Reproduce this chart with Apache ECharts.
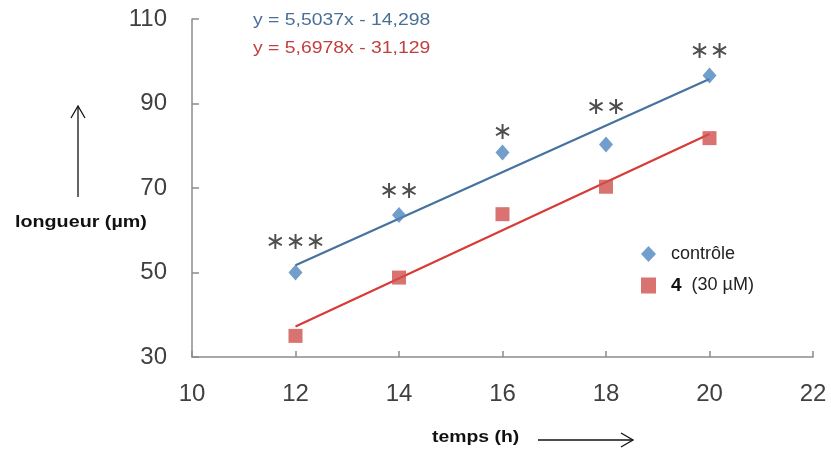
<!DOCTYPE html>
<html>
<head>
<meta charset="utf-8">
<script src="https://cdn.jsdelivr.net/npm/echarts@6/dist/echarts.min.js"></script>
<style>html,body{margin:0;padding:0;background:#fff}#c{width:831px;height:450px}</style>
</head>
<body>
<div id="c"></div>
<script>
// ---- data ----
const times = [12, 14, 16, 18, 20];
const controle = [50.0, 63.6, 78.4, 80.3, 96.6];
const traite = [35.0, 48.8, 63.8, 70.3, 81.8];
const trendX = [12, 20];
const trendControle = [51.7, 95.8];
const trendTraite = [37.2, 82.8];
const stars = ['∗∗∗', '∗∗', '∗', '∗∗', '∗∗'];
const starLevels = [57.0, 69.0, 83.0, 88.9, 102.2];
const xTicks = [10, 12, 14, 16, 18, 20, 22];
const yTicks = [30, 50, 70, 90, 110];
const eqControle = 'y = 5,5037x - 14,298';
const eqTraite = 'y = 5,6978x - 31,129';

const blue = '#4f86bf';
const blueLine = '#45729e';
const red = '#d0504d';
const redLine = '#d83a36';
const axisCol = '#8c8c8c';

const chart = echarts.init(document.getElementById('c'));
chart.setOption({
  animation: false,
  backgroundColor: '#fff',
  grid: {left: 192, right: 18, top: 19, bottom: 93, containLabel: false},
  xAxis: {
    type: 'value', min: xTicks[0], max: xTicks[xTicks.length - 1], interval: 2,
    axisLine: {lineStyle: {color: axisCol, width: 1.5}},
    axisTick: {inside: true, length: 6, lineStyle: {color: axisCol, width: 1.5}},
    splitLine: {show: false},
    axisLabel: {margin: 25, fontSize: 24, color: '#404040', fontFamily: 'Liberation Sans'}
  },
  yAxis: {
    type: 'value', min: yTicks[0], max: yTicks[yTicks.length - 1], interval: 20,
    axisLine: {show: true, lineStyle: {color: axisCol, width: 1.5}},
    axisTick: {show: true, inside: true, length: 7, lineStyle: {color: axisCol, width: 1.5}},
    splitLine: {show: false},
    axisLabel: {margin: 25, fontSize: 24, color: '#404040', fontFamily: 'Liberation Sans'}
  },
  legend: {
    orient: 'vertical', left: 636, top: 240, itemGap: 13,
    itemWidth: 15, itemHeight: 16,
    data: [{name: 'contrôle', icon: 'diamond'}, {name: '4 (30 µM)', icon: 'rect'}],
    formatter: function (n) { return n === '4 (30 µM)' ? '{b|4}  (30 µM)' : n; },
    textStyle: {fontSize: 18, color: '#222', fontFamily: 'Liberation Sans', padding: [0, 0, 0, 10],
      rich: {b: {fontSize: 19, fontWeight: 'bold', color: '#111', fontFamily: 'Liberation Sans'}}}
  },
  series: [
    {
      type: 'line', name: 'trend1', data: trendX.map((x, i) => [x, trendControle[i]]),
      showSymbol: false, symbol: 'none', lineStyle: {color: blueLine, width: 2.2}, z: 2
    },
    {
      type: 'line', name: 'trend2', data: trendX.map((x, i) => [x, trendTraite[i]]),
      showSymbol: false, symbol: 'none', lineStyle: {color: redLine, width: 2.2}, z: 2
    },
    {
      type: 'scatter', name: 'contrôle', symbol: 'diamond', symbolSize: [14, 16],
      data: times.map((t, i) => [t, controle[i]]),
      itemStyle: {color: blue}, z: 3
    },
    {
      type: 'scatter', name: '4 (30 µM)', symbol: 'rect', symbolSize: 14,
      data: times.map((t, i) => [t, traite[i]]),
      itemStyle: {color: red}, z: 3
    },
    {
      type: 'scatter', name: 'stars', symbolSize: 0, silent: true,
      data: times.map((t, i) => ({value: [t, starLevels[i]], label: {formatter: stars[i]}})),
      label: {show: true, position: 'inside', fontSize: 24, color: '#222', fontFamily: 'DejaVu Sans'}
    }
  ],
  graphic: [
    {type: 'text', x: 253, y: 20, scaleX: 1.14, style: {text: eqControle, fontSize: 17, fill: '#4a6f96', fontFamily: 'Liberation Sans', verticalAlign: 'middle'}},
    {type: 'text', x: 253, y: 48, scaleX: 1.14, style: {text: eqTraite, fontSize: 17, fill: '#c0403d', fontFamily: 'Liberation Sans', verticalAlign: 'middle'}},
    {type: 'text', x: 15, y: 222, scaleX: 1.16, style: {text: 'longueur (µm)', fontSize: 17, fontWeight: 'bold', fill: '#111', fontFamily: 'Liberation Sans', verticalAlign: 'middle'}},
    {type: 'text', x: 432, y: 437, scaleX: 1.14, style: {text: 'temps (h)', fontSize: 17, fontWeight: 'bold', fill: '#111', fontFamily: 'Liberation Sans', verticalAlign: 'middle'}},
    {type: 'line', shape: {x1: 78, y1: 106, x2: 78, y2: 197}, style: {stroke: '#111', lineWidth: 1.3}},
    {type: 'polyline', shape: {points: [[71, 118], [78, 106], [85, 118]]}, style: {stroke: '#111', lineWidth: 1.3, fill: null}},
    {type: 'line', shape: {x1: 538, y1: 440, x2: 633, y2: 440}, style: {stroke: '#111', lineWidth: 1.3}},
    {type: 'polyline', shape: {points: [[621, 433], [633, 440], [621, 447]]}, style: {stroke: '#111', lineWidth: 1.3, fill: null}}
  ]
});
</script>
</body>
</html>
